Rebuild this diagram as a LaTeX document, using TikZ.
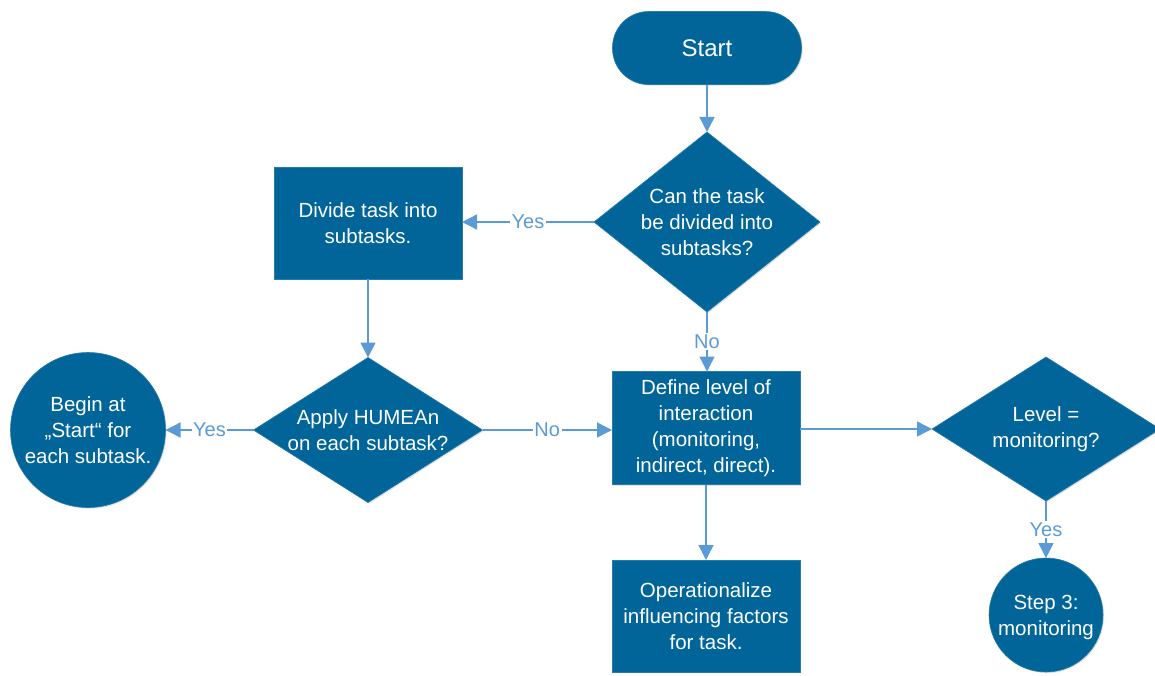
\documentclass[tikz,border=0pt]{standalone}
\usepackage{fontspec}
\setmainfont{Liberation Sans}
\usetikzlibrary{shapes.geometric,arrows.meta,shadows}

\definecolor{boxblue}{RGB}{1,101,154}
\definecolor{linkblue}{RGB}{91,155,213}

\tikzset{
  base/.style={fill=boxblue, draw=boxblue!85!white, line width=0.6pt, outer sep=0pt,
    drop shadow={shadow xshift=1.2pt, shadow yshift=-1.2pt, fill=black!30, opacity=0.35}},
  terminal/.style={base, rectangle, rounded corners=36pt, minimum width=189pt, minimum height=73pt},
  process/.style={base, rectangle, minimum width=188pt, minimum height=112pt},
  decision/.style={base, diamond, inner sep=0pt},
  endpoint/.style={base, circle, inner sep=0pt},
  txt/.style={text=white, align=center, font=\fontsize{20.5}{26}\selectfont, inner sep=0pt},
  link/.style={draw=linkblue, line width=1.4pt, -{Triangle[width=15pt,length=15pt]}},
  tag/.style={fill=white, text=linkblue, font=\fontsize{20}{24}\selectfont, inner sep=1.5pt}
}

\begin{document}
\begin{tikzpicture}[x=1pt,y=-1pt]
\useasboundingbox (0,0) rectangle (1155,675);

% shapes
\node[terminal] (start) at (707,48) {};
\node[txt, font=\fontsize{24}{28}\selectfont] (startT) at (start) {Start};

\node[decision, minimum width=226pt, minimum height=180pt] (d1) at (707,222) {};
\node[txt] (d1T) at (d1) {Can the task\\be divided into\\subtasks?};

\node[process, minimum width=188pt, minimum height=112pt] (divide) at (368,223) {};
\node[txt] (divideT) at (divide) {Divide task into\\subtasks.};

\node[decision, minimum width=229pt, minimum height=145pt] (d2) at (368,430) {};
\node[txt] (d2T) at (d2) {Apply HUMEAn\\on each subtask?};

\node[endpoint, minimum size=155pt] (begin) at (88,430) {};
\node[txt] (beginT) at (begin) {Begin at\\„Start“ for\\each subtask.};

\node[process, minimum width=188pt, minimum height=113pt] (define) at (706,428) {};
\node[txt] (defineT) at (define) {Define level of\\interaction\\(monitoring,\\indirect, direct).};

\node[process, minimum width=188pt, minimum height=112pt] (oper) at (706,616) {};
\node[txt] (operT) at (oper) {Operationalize\\influencing factors\\for task.};

\node[decision, minimum width=228pt, minimum height=144pt] (d3) at (1046,429) {};
\node[txt] (d3T) at (d3) {Level =\\monitoring?};

\node[endpoint, minimum size=114pt] (step) at (1046,615) {};
\node[txt] (stepT) at ([yshift=-2pt]step.center) {Step 3:\\monitoring};

% connectors
\draw[link] (start) -- (d1);
\draw[link] (d1.west) -- node[tag] {Yes} (divide.east |- d1.west);
\draw[link] (d1.south) -- node[tag] {No} (define.north -| d1.south);
\draw[link] (divide) -- (d2);
\draw[link] (d2.west) -- node[tag] {Yes} (begin.east |- d2.west);
\draw[link] (d2.east) -- node[tag] {No} (define.west |- d2.east);
\draw[link] (define.east |- d3.west) -- (d3.west);
\draw[link] (define) -- (oper);
\draw[link] (d3.south) -- node[tag] {Yes} (step.north -| d3.south);
\end{tikzpicture}
\end{document}
